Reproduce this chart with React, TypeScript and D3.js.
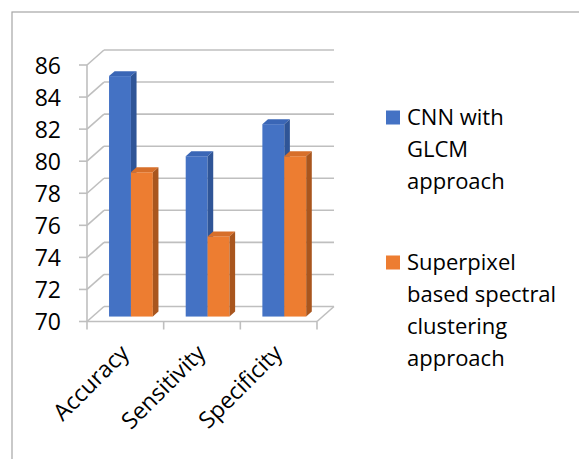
import * as d3 from 'd3';

const categories = ['Accuracy', 'Sensitivity', 'Specificity'];
const seriesNames = ['CNN with GLCM approach', 'Superpixel based spectral clustering approach'];
const cnnValues = [85, 80, 82];
const superpixelValues = [79, 75, 80];
const yTicks = [70, 72, 74, 76, 78, 80, 82, 84, 86];
const legendLines = [
  ['CNN with', 'GLCM', 'approach'],
  ['Superpixel', 'based spectral', 'clustering', 'approach'],
];

const W = 579;
const H = 459;
const FONT = '"Open Sans", "Noto Sans", sans-serif';

// depth of the 3D box (back wall offset) and bar depth fractions
const DX = 17;
const DY = -15;
const F1 = 0.33;
const F2 = 0.66;

const faces = [
  { front: '#4472C4', side: '#2F5597', top: '#3A66B6' },
  { front: '#ED7D31', side: '#A9561E', top: '#D76F2A' },
];

export default function App() {
  const x0 = d3.scaleBand().domain(categories).range([87, 317]).padding(0);
  const bw = x0.bandwidth();
  const barW = bw / 3.5;
  const x1 = d3.scaleBand().domain(seriesNames).range([barW * 0.75, bw - barW * 0.75]).padding(0);
  const y = d3.scaleLinear().domain([70, 86]).range([321.5, 65]);

  const values = [cnnValues, superpixelValues];
  const xl = 87;
  const xr = 317;
  const yb = y(70);

  const bars: JSX.Element[] = [];
  categories.forEach((c, ci) => {
    seriesNames.forEach((s, si) => {
      const v = values[si][ci];
      const bx = (x0(c) || 0) + (x1(s) || 0);
      const ax = bx + DX * F1;
      const top = y(v) + DY * F1;
      const bot = yb + DY * F1;
      const ddx = DX * (F2 - F1);
      const ddy = DY * (F2 - F1);
      const f = faces[si];
      bars.push(
        <g key={`${ci}-${si}`}>
          <rect x={ax} y={top} width={barW} height={bot - top} fill={f.front} />
          <path
            d={`M${ax},${top}L${ax + ddx},${top + ddy}L${ax + barW + ddx},${top + ddy}L${ax + barW},${top}Z`}
            fill={f.top}
          />
          <path
            d={`M${ax + barW},${top}L${ax + barW + ddx},${top + ddy}L${ax + barW + ddx},${bot + ddy}L${ax + barW},${bot}Z`}
            fill={f.side}
          />
        </g>
      );
    });
  });

  const grid = '#BFBFBF';

  return (
    <svg
      width={W}
      height={H}
      style={{ position: 'absolute', left: 0, top: 0, background: '#fff' }}
      fontFamily={FONT}
    >
      <rect x={12} y={12} width={W} height={H} fill="none" stroke="#A6A6A6" strokeWidth={1.2} />

      {/* back wall gridlines and left wall diagonals */}
      {yTicks.map((t) => (
        <g key={t}>
          <line x1={xl + DX} x2={xr + DX} y1={y(t) + DY} y2={y(t) + DY} stroke={grid} strokeWidth={1.6} />
          <line x1={xl} x2={xl + DX} y1={y(t)} y2={y(t) + DY} stroke={grid} strokeWidth={1.6} />
          <line x1={xl - 8} x2={xl} y1={y(t)} y2={y(t)} stroke={grid} strokeWidth={1.6} />
          <text x={61} y={y(t) + 8.5} textAnchor="end" fontSize={23} fill="#000">
            {t}
          </text>
        </g>
      ))}
      <line x1={xl} x2={xl} y1={y(86)} y2={yb} stroke={grid} strokeWidth={1.6} />
      {/* floor */}
      <line x1={xl} x2={xr} y1={yb} y2={yb} stroke={grid} strokeWidth={1.6} />
      <line x1={xr} x2={xr + DX} y1={yb} y2={yb + DY} stroke={grid} strokeWidth={1.6} />
      {[...categories.map((c) => x0(c) || 0), xr].map((tx, i) => (
        <line key={i} x1={tx} x2={tx} y1={yb} y2={yb + 8} stroke={grid} strokeWidth={1.6} />
      ))}

      {bars}

      {categories.map((c) => {
        const cx = (x0(c) || 0) + bw / 2 + 5;
        return (
          <text
            key={c}
            transform={`translate(${cx},${yb + 33}) rotate(-45)`}
            textAnchor="end"
            fontSize={23}
            fill="#000"
          >
            {c}
          </text>
        );
      })}

      {legendLines.map((lines, li) => {
        const y0 = li === 0 ? 125 : 270;
        return (
          <g key={li}>
            <rect x={386} y={y0 - 14.5} width={14} height={14} fill={faces[li].front} />
            {lines.map((ln, k) => (
              <text key={k} x={407} y={y0 + k * 32} fontSize={22} fill="#000">
                {ln}
              </text>
            ))}
          </g>
        );
      })}
    </svg>
  );
}
